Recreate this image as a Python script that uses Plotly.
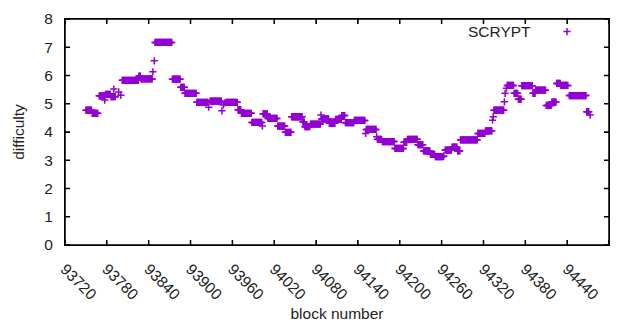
import plotly.graph_objects as go

# Run-length data: constant difficulty over block ranges
seg_start = [93750, 93759, 93769, 93778, 93786, 93802, 93826, 93829, 93849, 93874,
             93886, 93892, 93909, 93928, 93951, 93968, 93973, 93988, 94004, 94011,
             94025, 94036, 94045, 94061, 94064, 94072, 94088, 94099, 94108, 94117,
             94122, 94135, 94152, 94168, 94175, 94193, 94206, 94211, 94226, 94234,
             94244, 94251, 94265, 94275, 94283, 94287, 94312, 94323, 94335, 94354,
             94364, 94370, 94375, 94391, 94395, 94410, 94418, 94425, 94431, 94443,
             94468]
seg_end = [93758, 93767, 93777, 93785, 93792, 93825, 93828, 93845, 93873, 93885,
           93891, 93908, 93925, 93944, 93967, 93972, 93987, 94002, 94010, 94024,
           94035, 94044, 94060, 94063, 94071, 94086, 94098, 94107, 94116, 94121,
           94134, 94150, 94166, 94174, 94192, 94205, 94210, 94225, 94233, 94243,
           94250, 94262, 94274, 94282, 94286, 94311, 94322, 94332, 94349, 94363,
           94369, 94374, 94390, 94394, 94409, 94417, 94424, 94430, 94441, 94467,
           94471]
seg_diff = [4.77, 4.66, 5.28, 5.33, 5.25, 5.83, 5.98, 5.88, 7.17, 5.87,
            5.58, 5.37, 5.05, 5.09, 5.05, 4.79, 4.66, 4.34, 4.64, 4.48,
            4.21, 3.99, 4.54, 4.35, 4.19, 4.28, 4.46, 4.31, 4.45, 4.58,
            4.33, 4.41, 4.09, 3.74, 3.66, 3.42, 3.64, 3.74, 3.55, 3.33,
            3.21, 3.13, 3.36, 3.46, 3.33, 3.72, 3.95, 4.04, 4.77, 5.65,
            5.37, 5.16, 5.64, 5.37, 5.48, 4.94, 5.06, 5.72, 5.65, 5.29,
            4.72]

# Isolated blocks between the runs
single_block = [93777, 93790, 93797, 93800, 93846, 93848, 93926, 93945, 93947, 93949,
                94003, 94087, 94151, 94167, 94263, 94333, 94334, 94350, 94351, 94353,
                94473]
single_diff = [5.13, 5.52, 5.42, 5.30, 6.13, 6.52, 4.88, 4.75, 4.96, 5.03,
               4.21, 4.60, 3.95, 3.83, 3.15, 4.42, 4.54, 5.07, 5.37, 5.55,
               4.60]

x_ticks = [93720, 93780, 93840, 93900, 93960, 94020, 94080, 94140, 94200,
           94260, 94320, 94380, 94440, 94500]
y_ticks = [0, 1, 2, 3, 4, 5, 6, 7, 8]
x_range = [x_ticks[0], x_ticks[-1]]
y_range = [y_ticks[0], y_ticks[-1]]

blocks, diffs = [], []
for s, e, d in zip(seg_start, seg_end, seg_diff):
    for b in range(s, e + 1):
        blocks.append(b)
        diffs.append(d)
blocks += single_block
diffs += single_diff

COLOR = "#9400D3"
FONT = "Liberation Sans"
TXT = "#222222"
TICK = 5

fig = go.Figure()

# plot frame (follows the axis ranges)
fig.add_trace(go.Scatter(
    x=[x_range[0], x_range[1], x_range[1], x_range[0], x_range[0]],
    y=[y_range[0], y_range[0], y_range[1], y_range[1], y_range[0]],
    mode="lines", line=dict(color="black", width=1.5), cliponaxis=False,
    hoverinfo="skip", showlegend=False,
))

fig.add_trace(go.Scatter(
    x=blocks, y=diffs, mode="markers", name="",
    marker=dict(symbol="cross-thin", size=5.2, color=COLOR,
                line=dict(color=COLOR, width=1.5)),
    showlegend=True,
))

fig.add_annotation(text="SCRYPT", xref="paper", yref="paper",
                   x=(533 - 65) / 544, y=(245 - 32) / 226,
                   xanchor="right", yanchor="middle", showarrow=False,
                   font=dict(family=FONT, size=15.5, color=TXT))

# inward ticks on all four sides
line_style = dict(color="black", width=1.5)
shapes = []
for xt in x_ticks:
    shapes.append(dict(type="line", xref="x", yref="paper", ysizemode="pixel",
                       yanchor=0, x0=xt, x1=xt, y0=0, y1=TICK, line=line_style))
    shapes.append(dict(type="line", xref="x", yref="paper", ysizemode="pixel",
                       yanchor=1, x0=xt, x1=xt, y0=0, y1=-TICK, line=line_style))
for yt in y_ticks:
    shapes.append(dict(type="line", xref="paper", yref="y", xsizemode="pixel",
                       xanchor=0, x0=0, x1=TICK, y0=yt, y1=yt, line=line_style))
    shapes.append(dict(type="line", xref="paper", yref="y", xsizemode="pixel",
                       xanchor=1, x0=0, x1=-TICK, y0=yt, y1=yt, line=line_style))

axis_common = dict(
    showline=True, linecolor="black", linewidth=1, mirror="allticks",
    ticks="inside", ticklen=TICK, tickcolor="black",
    showgrid=False, zeroline=False,
    tickfont=dict(family=FONT, size=15.5, color=TXT),
)

fig.update_layout(
    template="none",
    width=640, height=330,
    margin=dict(l=65, r=31, t=19, b=85),
    font=dict(family=FONT, size=15.5, color=TXT),
    showlegend=True,
    shapes=shapes,
    legend=dict(x=(567 - 65 - 20) / 544, y=(245 - 32) / 226, xanchor="left",
                yanchor="middle", bgcolor="rgba(0,0,0,0)", borderwidth=0,
                font=dict(family=FONT, size=15.5)),
    xaxis=dict(range=x_range, tickmode="array", tickvals=x_ticks,
               ticktext=[str(v) for v in x_ticks], tickangle=45,
               ticklabelstandoff=8,
               title=dict(text="block number",
                          font=dict(family=FONT, size=15.5, color=TXT)),
               **axis_common),
    yaxis=dict(range=y_range, tickmode="array", tickvals=y_ticks,
               ticktext=[str(v) for v in y_ticks],
               ticklabelstandoff=8,
               title=dict(text="difficulty",
                          font=dict(family=FONT, size=15.5, color=TXT)),
               **axis_common),
)

fig.write_html(
    "out.html",
    config={"displayModeBar": False},
    post_script="document.body.style.margin='0';document.body.style.overflow='hidden';",
)
